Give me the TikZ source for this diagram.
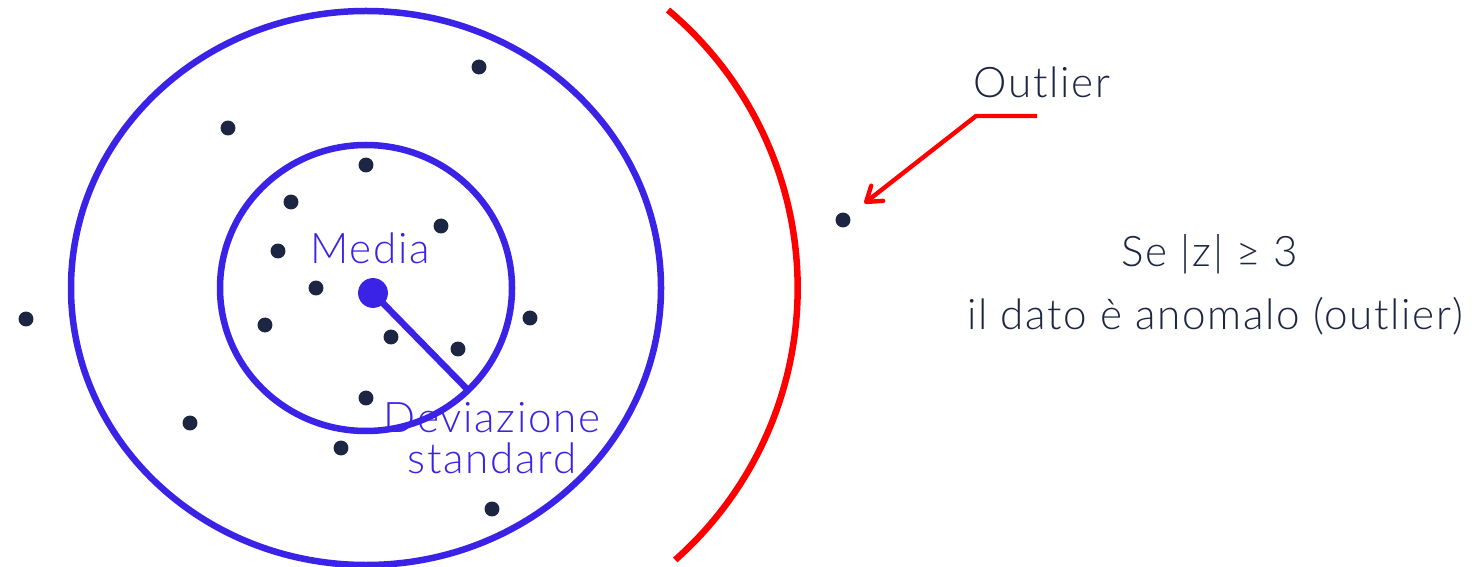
\documentclass[tikz,border=0pt]{standalone}
\usepackage{fontspec}
\setmainfont{Lato}[UprightFont={* Light}, LetterSpace=4]
\usetikzlibrary{arrows.meta}
\definecolor{ringblue}{RGB}{58,34,230}
\definecolor{dotnavy}{RGB}{28,37,65}
\definecolor{limitred}{RGB}{255,0,0}

\begin{document}
\begin{tikzpicture}[x=0.02cm, y=-0.02cm,
  ring/.style={ringblue, line width=3.7pt},
  datum/.style={circle, fill=dotnavy, inner sep=0pt, minimum size=8.5pt},
  lbl/.style={font=\fontsize{24}{23.5}\selectfont, inner sep=0pt}]
  \useasboundingbox (0,0) rectangle (1473,567);
  % the two rings round the mean
  \draw[ring] (366,288) ellipse [x radius=295, y radius=277];
  \draw[ring] (366,288) ellipse [x radius=146, y radius=143];
  % the data
  \foreach \px/\py [count=\i] in {479/67, 228/128, 366/165, 291/202, 441/226,
      278/251, 316/288, 265/325, 391/337, 458/349, 530/318, 366/398,
      190/423, 341/448, 492/509, 26/319, 843/220}
    \node[datum] (p\i) at (\px,\py) {};
  % mean and one standard deviation
  \node[circle, fill=ringblue, inner sep=0pt, minimum size=17pt] (mean) at (373,293) {};
  \coordinate (sdend) at (467,389);
  \draw[ring] (mean.center) -- (sdend);
  \node[lbl, text=ringblue] (medialbl) at (370,248) {Media};
  \node[lbl, text=ringblue, align=center] (sdlbl) at (492,438) {Deviazione\\standard};
  % threshold at |z| = 3
  \draw[limitred, line width=3.7pt] (668,10) arc[start angle=-50, end angle=48.5, radius=363];
  % outlier pointer
  \node[lbl, text=dotnavy] (outlbl) at (1042,82) {Outlier};
  \coordinate (hook) at (1037,116);
  \coordinate (bend) at (976,116);
  \draw[limitred, line width=2.5pt, -{Straight Barb[length=8pt, width=11pt, round]}, shorten >=11pt] (hook) -- (bend) -- (p17);
  \node[lbl, text=dotnavy] (rule) at (1210,254) {Se |z| ≥ 3};
  \node[lbl, text=dotnavy] (ruletext) at (1215,316) {il dato è anomalo (outlier)};
\end{tikzpicture}
\end{document}
